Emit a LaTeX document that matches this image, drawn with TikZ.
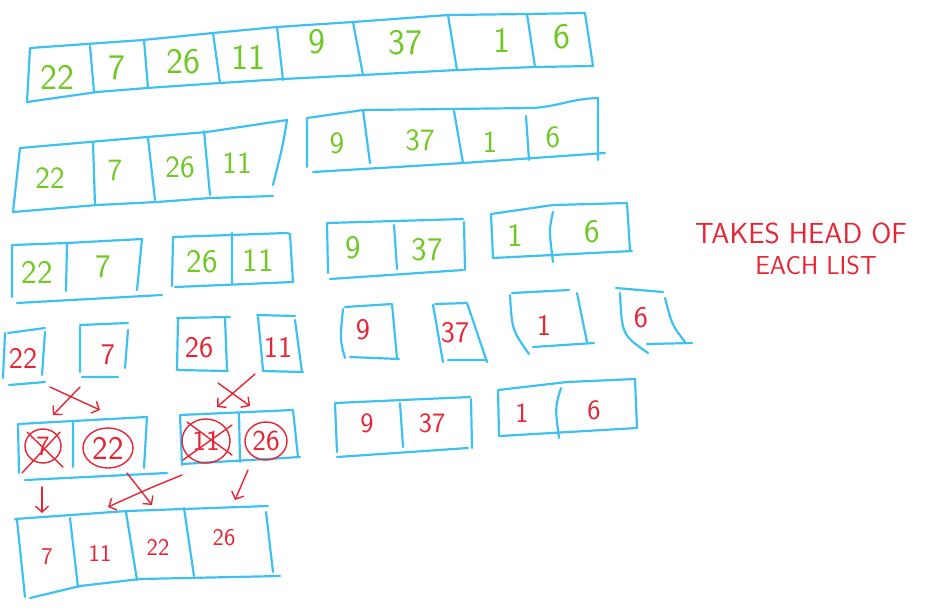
\documentclass[tikz,border=0pt]{standalone}
\usepackage{fontspec}
\usetikzlibrary{arrows.meta}

\definecolor{boxblue}{RGB}{62,193,240}
\definecolor{numgreen}{RGB}{112,200,36}
\definecolor{inkred}{RGB}{230,36,52}

\tikzset{
  box/.style={draw=boxblue, line width=2.2pt, line cap=round, line join=round},
  ink/.style={draw=inkred, line width=1.4pt, line cap=round},
  gnum/.style={text=numgreen, font=\sffamily\fontsize{#1}{#1}\selectfont},
  gnum/.default=33,
  rnum/.style={text=inkred, font=\sffamily\fontsize{#1}{#1}\selectfont},
  rnum/.default=28,
  arr/.style={ink, -{Straight Barb[length=6pt,width=13pt]}}
}

\begin{document}
\begin{tikzpicture}[x=1pt,y=-1pt]

\useasboundingbox (0,0) rectangle (941,614);

% full list
\draw[box] (30,48) -- (143,40) -- (213,33) -- (277,27) -- (353,22) -- (448,15) -- (527,14) -- (585,13)
  -- (593,66) -- (535,67) -- (457,70) -- (363,75) -- (283,79) -- (220,83) -- (147,88) -- (97,92) -- (27,102) -- cycle;
\draw[box] (90,46) -- (94,92) (144,40) -- (148,88) (213,33) -- (220,83) (277,27) -- (283,80)
  (353,22) -- (363,75) (448,15) -- (457,70) (527,14) -- (535,67);
\foreach \v/\x/\y [count=\i] in {22/57/77, 7/117/68, 26/183/62, 11/248/57, 9/317/42, 37/405/43, 1/502/40, 6/562/37}
  \node[gnum=36] (full\i) at (\x,\y) {\v};

% two halves
\draw[box] (273,185) .. controls (283,145) .. (287,120) -- (207,132) -- (147,137) -- (20,148) -- (13,212)
  -- (97,205) -- (157,202) -- (210,198) -- (273,196);
\draw[box] (93,142) -- (95,205) (148,138) -- (155,200) (204,131) -- (210,195);
\draw[box] (307,167) -- (307,118) -- (363,110) -- (533,108) .. controls (560,106) and (570,99) .. (598,98) -- (598,160);
\draw[box] (313,172) -- (463,163) -- (605,153);
\draw[box] (363,110) -- (370,163) (454,111) -- (463,163) (526,116) -- (529,160);
\foreach \v/\x/\y [count=\i] in {22/50/178, 7/115/170, 26/180/167, 11/237/163, 9/337/143, 37/420/140, 1/490/142, 6/553/137}
  \node[gnum=31] (half\i) at (\x,\y) {\v};

% quarters
\draw[box] (12,297) -- (12,245) -- (67,243) -- (142,239) -- (137,290) (17,303) -- (162,295) (67,243) -- (66,291);
\draw[box] (172,286) -- (173,237) -- (287,233) -- (290,234) -- (293,282) -- (175,287) (232,233) -- (232,283);
\draw[box] (328,273) -- (327,223) -- (463,219) (464,222) -- (465,270) (330,279) -- (463,270) (394,225) -- (397,269);
\draw[box] (493,258) -- (491,214) -- (553,205) -- (627,203) -- (630,251) (493,258) -- (632,251);
\draw[box] (553,212) .. controls (549,230) .. (553,262);
\foreach \v/\x/\y [count=\i] in {22/37/272, 7/103/267, 26/202/262, 11/258/260, 9/353/248, 37/427/250, 1/515/235, 6/592/232}
  \node[gnum] (quar\i) at (\x,\y) {\v};

% single items
\draw[box] (8,333) -- (45,328) (5,333) -- (3,378) (45,332) -- (42,375) (9,385) -- (45,382);
\draw[box] (80,325) -- (128,323) (80,327) -- (80,372) (128,330) -- (125,368) (82,377) -- (118,377);
\draw[box] (177,318) -- (230,317) (178,318) -- (177,370) (225,318) -- (227,370) (177,370) -- (228,371);
\draw[box] (257,315) -- (295,316) (258,317) -- (263,370) (295,320) -- (302,372) (263,371) -- (303,372);
\draw[box] (345,307) -- (392,304) (343,309) .. controls (340,340) .. (345,358) (392,304) -- (397,358) (350,357) -- (399,359);
\draw[box] (435,304) -- (467,303) (433,305) -- (443,362) (467,303) -- (487,362) (448,360) -- (487,360);
\draw[box] (512,293) -- (569,290) (510,295) .. controls (512,330) .. (529,354) (577,293) -- (587,342) (533,347) -- (594,343);
\draw[box] (616,288) -- (663,292) (620,293) .. controls (622,335) .. (648,353)
  (665,298) .. controls (672,325) .. (685,342) (647,344) -- (692,343);
\foreach \v/\x/\y [count=\i] in {22/23/358, 7/108/355, 26/199/348, 11/278/347, 9/363/330, 37/455/333, 1/544/325, 6/641/318}
  \node[rnum=30] (one\i) at (\x,\y) {\v};

% merged pairs
\draw[box] (19,473) -- (18,424) -- (73,421) -- (147,417) -- (144,468) (73,422) -- (73,467) (25,480) -- (167,473);
\draw[box] (182,465) -- (180,415) -- (293,410) -- (298,457) (239,413) -- (240,462) (182,464) -- (300,457);
\draw[box] (337,452) -- (335,403) -- (470,397) (471,399) -- (472,448) (337,457) -- (468,448) (400,403) -- (403,447);
\draw[box] (499,436) -- (498,390) -- (567,382) -- (635,379) -- (637,428) (500,436) -- (637,428);
\draw[box] (561,388) .. controls (555,407) .. (559,438);
\node[rnum=28] (mA) at (43,446) {7};
\node[rnum=33] (mB) at (108,448) {22};
\node[rnum=29] (mC) at (206,441) {11};
\node[rnum=29] (mD) at (266,441) {26};
\node[rnum] (mE) at (367,423) {9};
\node[rnum] (mF) at (432,423) {37};
\node[rnum] (mG) at (522,413) {1};
\node[rnum] (mH) at (594,410) {6};

% circled heads
\draw[ink] (mA) ellipse [x radius=18, y radius=17];
\draw[ink] (27,432) -- (63,467) (60,432) -- (22,473);
\draw[ink] (mB) ellipse [x radius=25, y radius=20];
\draw[ink] (mC) ellipse [x radius=24, y radius=22];
\draw[ink] (187,422) -- (232,455) (232,425) -- (183,460);
\draw[ink] (mD) ellipse [x radius=21, y radius=19];

% result
\draw[box] (25,597) -- (17,520) -- (15,519) -- (127,511) -- (268,506) (266,512) -- (273,572)
  (30,598) -- (80,586) -- (140,579) -- (280,576);
\draw[box] (70,518) -- (78,587) (126,512) -- (137,580) (184,508) -- (194,576);
\foreach \v/\x/\y [count=\i] in {7/47/557, 11/100/553, 22/158/547, 26/224/538}
  \node[rnum=24] (res\i) at (\x,\y) {\v};

% arrows
\coordinate (p1) at (50,387);  \coordinate (q1) at (100,410);
\coordinate (p2) at (80,387);  \coordinate (q2) at (53,415);
\coordinate (p3) at (255,374); \coordinate (q3) at (217,407);
\coordinate (p4) at (218,383); \coordinate (q4) at (250,406);
\coordinate (p5) at (42,487);  \coordinate (q5) at (42,513);
\coordinate (p6) at (127,473); \coordinate (q6) at (152,505);
\coordinate (p7) at (182,475); \coordinate (q7) at (108,507);
\coordinate (p8) at (248,470); \coordinate (q8) at (235,500);
\foreach \i in {1,...,6,8}
  \draw[arr] (p\i) -- (q\i);
\draw[arr] (p7) .. controls (150,488) .. (q7);

\node[rnum=29] (note1) at (801,233) {TAKES HEAD OF};
\node[rnum=26] (note2) at (816,265) {EACH LIST};

\end{tikzpicture}
\end{document}
